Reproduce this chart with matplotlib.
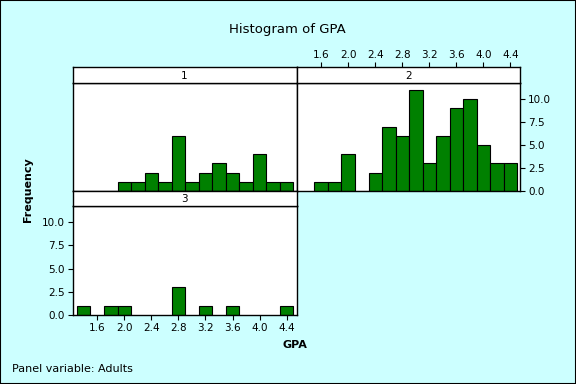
import numpy as np
import matplotlib
matplotlib.use("Agg")
import matplotlib.pyplot as plt

# bin centres (GPA) and counts for each panel of Adults
gpa_1 = [2.0, 2.2, 2.4, 2.6, 2.8, 3.0, 3.2, 3.4, 3.6, 3.8, 4.0, 4.2, 4.4]
freq_1 = [1, 1, 2, 1, 6, 1, 2, 3, 2, 1, 4, 1, 1]

gpa_2 = [1.6, 1.8, 2.0, 2.2, 2.4, 2.6, 2.8, 3.0, 3.2, 3.4, 3.6, 3.8, 4.0, 4.2, 4.4]
freq_2 = [1, 1, 4, 0, 2, 7, 6, 11, 3, 6, 9, 10, 5, 3, 3]

gpa_3 = [1.4, 1.8, 2.0, 2.8, 3.2, 3.6, 4.4]
freq_3 = [1, 1, 1, 3, 1, 1, 1]

x_ticks = [1.6, 2.0, 2.4, 2.8, 3.2, 3.6, 4.0, 4.4]
y_ticks = [0.0, 2.5, 5.0, 7.5, 10.0]
panel_names = ["1", "2", "3"]

bg = "#CCFFFF"
bar_color = "#008000"
W, H = 576, 384

fig = plt.figure(figsize=(5.76, 3.84), dpi=100, facecolor=bg)
fig.patches.append(plt.Rectangle((0, 0), 1, 1, transform=fig.transFigure,
                                 fill=False, edgecolor="black", linewidth=1.5))


def px_axes(x0, y0, x1, y1):
    # pixel box (top-left origin) -> axes
    return fig.add_axes([x0 / W, 1 - y1 / H, (x1 - x0) / W, (y1 - y0) / H])


def style(ax):
    for s in ax.spines.values():
        s.set_linewidth(1.0)
    ax.tick_params(direction="out", length=3.5, width=0.8, labelsize=7.5, pad=2)


def draw_panel(ax, x, y):
    ax.set_facecolor("white")
    ax.bar(x, y, width=0.2, color=bar_color, edgecolor="black", linewidth=0.8)
    ax.set_xlim(1.235, 4.545)
    ax.set_ylim(0, 11.7)
    style(ax)


def strip(ax, name):
    ax.set_facecolor("white")
    ax.set_xlim(1.235, 4.545)
    ax.text(0.5, 0.45, name, transform=ax.transAxes, ha="center", va="center", fontsize=7.5)
    style(ax)
    ax.set_xticks([])
    ax.set_yticks([])


left, mid, right = 72.5, 296.5, 520.3
s1_top, s1_bot, p1_bot = 67.3, 83.3, 191.0
s3_bot, p3_bot = 206.0, 315.3

# panel 1
ax1 = px_axes(left, s1_bot, mid, p1_bot)
draw_panel(ax1, gpa_1, freq_1)
ax1.set_xticks([])
ax1.set_yticks([])
st1 = px_axes(left, s1_top, mid, s1_bot)
strip(st1, panel_names[0])

# panel 2
ax2 = px_axes(mid, s1_bot, right, p1_bot)
draw_panel(ax2, gpa_2, freq_2)
ax2.set_xticks([])
ax2.yaxis.tick_right()
ax2.set_yticks(y_ticks)
ax2.set_yticklabels(["%.1f" % v for v in y_ticks])
st2 = px_axes(mid, s1_top, right, s1_bot)
strip(st2, panel_names[1])
st2.xaxis.tick_top()
st2.set_xticks(x_ticks)
st2.set_xticklabels(["%.1f" % v for v in x_ticks])

# panel 3
ax3 = px_axes(left, s3_bot, mid, p3_bot)
draw_panel(ax3, gpa_3, freq_3)
ax3.set_xticks(x_ticks)
ax3.set_xticklabels(["%.1f" % v for v in x_ticks])
ax3.set_yticks(y_ticks)
ax3.set_yticklabels(["%.1f" % v for v in y_ticks])
st3 = px_axes(left, p1_bot, mid, s3_bot)
strip(st3, panel_names[2])

fig.text(287 / W, 1 - 29 / H, "Histogram of GPA", ha="center", va="center", fontsize=9.5)
fig.text(28 / W, 1 - 190 / H, "Frequency", ha="center", va="center", rotation=90,
         fontsize=8, fontweight="bold")
fig.text(295 / W, 1 - 345 / H, "GPA", ha="center", va="center", fontsize=8, fontweight="bold")
fig.text(12 / W, 1 - 369 / H, "Panel variable: Adults", ha="left", va="center", fontsize=8)

fig.savefig("out.png", dpi=100, facecolor=bg)
